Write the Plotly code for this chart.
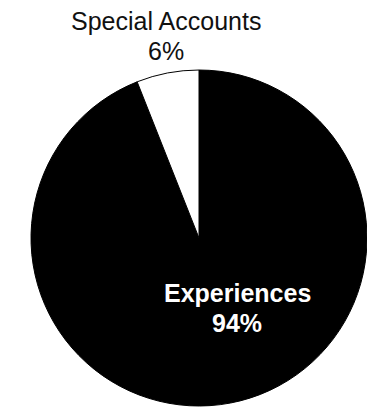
import plotly.graph_objects as go

# Share of items by category (drawn clockwise from 12 o'clock)
labels = ["Experiences", "Special Accounts"]
values = [94, 6]
colors = ["black", "white"]

W, H = 367, 409
total = sum(values)
pcts = [f"{round(v / total * 100)}%" for v in values]

fig = go.Figure(
    go.Pie(
        labels=labels,
        values=values,
        sort=False,
        direction="clockwise",
        rotation=0,
        marker=dict(colors=colors, line=dict(color="black", width=1)),
        textinfo="none",
        hoverinfo="skip",
        showlegend=False,
        domain=dict(x=[31 / W, 1.0], y=[3 / H, 339 / H]),
    )
)

# Category labels: name on one line, percentage below
label_specs = [
    # (index, x centre px, name centre y px, pct centre y px, colour, bold)
    (0, 237.5, 293, 323, "white", True),
    (1, 166, 21, 51, "#111111", False),
]
for i, xc, y1, y2, col, bold in label_specs:
    fam = "Liberation Sans, Arial, sans-serif"
    for txt, yc in ((labels[i], y1), (pcts[i], y2)):
        fig.add_annotation(
            x=xc / W, y=1 - yc / H, xref="paper", yref="paper",
            xanchor="center", yanchor="middle", showarrow=False,
            text=f"<b>{txt}</b>" if bold else txt,
            font=dict(family=fam, size=25, color=col),
        )

fig.update_layout(
    width=W, height=H,
    margin=dict(l=0, r=0, t=0, b=0),
    paper_bgcolor="white", plot_bgcolor="white",
)

fig.write_html("out.html", config={"displayModeBar": False})
